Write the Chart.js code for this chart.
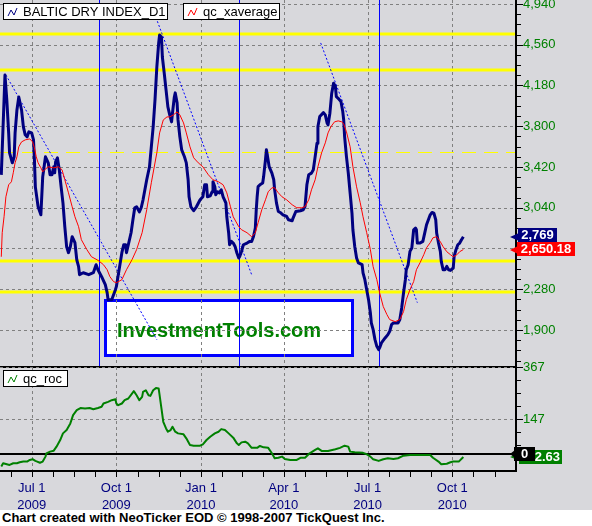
<!DOCTYPE html>
<html lang="en">
  <head>
    <meta charset="UTF-8" />
    <title>Baltic Dry Index</title>
    <script src="https://cdn.jsdelivr.net/npm/chart.js"></script>
    <style>
      * {
        margin: 0;
        padding: 0;
        box-sizing: border-box;
      }
      body {
        width: 592px;
        height: 526px;
        position: relative;
        overflow: hidden;
        background: #d8d8dc;
        font-family: "Liberation Sans", Arial, sans-serif;
      }
      #mainChart {
        position: absolute;
        left: 0;
        top: 0;
      }
      #rocChart {
        position: absolute;
        left: 0;
        top: 355px;
      }
      .footer {
        position: absolute;
        left: 0;
        top: 510px;
        width: 592px;
        height: 16px;
        padding-left: 2px;
        background: #fff;
        color: #000;
        font: bold 13px "Liberation Sans", Arial, sans-serif;
        line-height: 16px;
      }
    </style>
  </head>
  <body>
    <canvas id="mainChart" width="592" height="368"></canvas>
    <canvas id="rocChart" width="592" height="156"></canvas>
    <div class="footer">Chart created with NeoTicker EOD © 1998-2007 TickQuest Inc.</div>

    <script>
      // x values are days counted from 1 Jul 2009
      const bdiDays = [
        -33, -29, -27, -25, -24, -21, -19, -18, -16, -14,
        -11, -9, -7, -5, -3, 0, 2, 3, 4, 7,
        10, 12, 15, 18, 20, 22, 24, 25, 26, 28,
        30, 32, 34, 36, 38, 40, 42, 44, 47, 49,
        51, 52, 56, 62, 67, 70, 72, 76, 80, 82,
        83, 87, 91, 92, 95, 98, 100, 102, 103, 105,
        108, 110, 112, 114, 117, 119, 121, 123, 125, 128,
        130, 132, 134, 136, 138, 139, 141, 142, 144, 146,
        148, 150, 152, 153, 155, 156, 158, 159, 161, 163,
        166, 168, 170, 171, 173, 176, 179, 183, 186, 188,
        190, 191, 194, 196, 197, 199, 200, 202, 204, 206,
        208, 211, 212, 214, 215, 217, 219, 221, 223, 225,
        226, 228, 230, 234, 237, 239, 241, 243, 244, 245,
        246, 248, 251, 252, 254, 255, 256, 258, 261, 263,
        264, 266, 268, 270, 273, 277, 279, 283, 284, 287,
        292, 295, 297, 299, 301, 304, 306, 308, 310, 311,
        313, 317, 319, 321, 322, 324, 326, 328, 330, 331,
        333, 336, 338, 339, 340, 342, 344, 346, 348, 349,
        351, 353, 355, 359, 360, 362, 364, 366, 368, 369,
        371, 373, 375, 377, 378, 380, 384, 387, 389, 391,
        393, 398, 400, 402, 404, 406, 407, 409, 411, 413,
        415, 417, 418, 419, 422, 425, 427, 429, 431, 433,
        435, 437, 439, 440, 442, 444, 445, 447, 449, 451,
        453, 455, 458, 459, 461, 463, 465, 467, 469,
      ];
      const bdiValues = [
        3347, 4278, 4046, 3738, 3552, 3459, 3515, 3738, 3952, 4073,
        3952, 3794, 3720, 3701, 3748, 3738, 3673, 3487, 3235, 3049,
        2974, 3328, 3515, 3459, 3347, 3347, 3422, 3366, 3468, 3505,
        3394, 3235, 3086, 2863, 2676, 2621, 2676, 2770, 2714, 2555,
        2490, 2416, 2434, 2416, 2434, 2509, 2462, 2397, 2323, 2248,
        2183, 2183, 2276, 2304, 2462, 2621, 2695, 2695, 2621, 2695,
        2807, 2928, 3040, 3049, 3002, 3040, 3114, 3207, 3301, 3422,
        3608, 3794, 4046, 4353, 4577, 4651, 4632, 4446, 4297, 4139,
        3980, 3906, 3841, 3925, 4073, 4111, 4018, 3859, 3701, 3580,
        3515, 3459, 3301, 3142, 3049, 3012, 3049, 3114, 3142, 3254,
        3254, 3142, 3151, 3189, 3282, 3235, 3161, 3189, 3179, 3207,
        3142, 3086, 2956, 2807, 2695, 2726, 2711, 2679, 2618, 2571,
        2586, 2633, 2695, 2711, 2726, 2726, 2772, 2851, 3021, 3145,
        3238, 3254, 3270, 3331, 3487, 3580, 3533, 3424, 3363, 3301,
        3207, 3083, 3005, 2996, 2974, 2959, 2928, 2919, 2944, 3005,
        3012, 3021, 3052, 3254, 3347, 3363, 3394, 3517, 3642, 3797,
        3890, 3927, 3906, 3829, 3813, 3922, 4108, 4201, 4170, 4076,
        4061, 4030, 3937, 3859, 3704, 3517, 3363, 3177, 2990, 2835,
        2679, 2571, 2525, 2509, 2432, 2369, 2276, 2183, 2059, 1966,
        1903, 1810, 1748, 1717, 1733, 1780, 1826, 1857, 1888, 1950,
        1966, 1966, 1997, 2106, 2245, 2369, 2462, 2509, 2633, 2664,
        2835, 2851, 2835, 2711, 2711, 2726, 2804, 2881, 2928, 2974,
        2996, 2990, 2928, 2804, 2711, 2633, 2540, 2462, 2462, 2493,
        2462, 2456, 2478, 2586, 2649, 2695, 2711, 2742, 2769,
      ];

      const avgDays = [
        -33, -32, -30, -28, -25, -22, -20, -18, -16, -14,
        -11, -7, -2, 1, 3, 5, 7, 10, 12, 14,
        18, 24, 29, 33, 36, 40, 44, 47, 51, 54,
        60, 65, 71, 74, 78, 82, 85, 89, 92, 98,
        103, 109, 114, 120, 125, 130, 136, 139, 143, 147,
        150, 154, 158, 161, 165, 168, 172, 176, 181, 186,
        192, 197, 203, 208, 212, 216, 219, 225, 228, 234,
        239, 243, 246, 250, 254, 257, 261, 264, 268, 272,
        277, 283, 288, 293, 297, 301, 304, 308, 311, 315,
        319, 322, 325, 329, 333, 337, 339, 342, 346, 349,
        353, 357, 360, 364, 368, 371, 375, 378, 382, 386,
        389, 395, 400, 404, 407, 411, 415, 418, 422, 426,
        429, 433, 436, 440, 444, 447, 451, 455, 458, 462,
        465, 469,
      ];
      const avgValues = [
        2583, 2807, 2956, 3142, 3254, 3282, 3366, 3459, 3515, 3608,
        3654, 3673, 3682, 3654, 3599, 3515, 3459, 3412, 3375, 3394,
        3422, 3412, 3422, 3394, 3301, 3179, 3049, 2956, 2863, 2742,
        2649, 2583, 2555, 2537, 2509, 2462, 2397, 2351, 2341, 2369,
        2462, 2555, 2649, 2807, 3021, 3273, 3552, 3738, 3859, 3887,
        3887, 3906, 3934, 3906, 3831, 3738, 3608, 3506, 3459, 3422,
        3347, 3301, 3282, 3254, 3179, 3049, 2956, 2863, 2835, 2807,
        2770, 2807, 2900, 3021, 3114, 3189, 3226, 3226, 3179, 3142,
        3114, 3068, 3040, 3040, 3049, 3114, 3207, 3301, 3422, 3552,
        3645, 3738, 3794, 3841, 3850, 3841, 3822, 3748, 3608, 3422,
        3235, 3086, 2956, 2807, 2649, 2490, 2369, 2248, 2118, 2043,
        1997, 1978, 1997, 2071, 2183, 2276, 2351, 2462, 2528, 2602,
        2667, 2714, 2760, 2770, 2723, 2677, 2630, 2602, 2583, 2602,
        2630, 2650.18,
      ];

      const rocDays = [
        -33, -31, -27, -24, -20, -16, -13, -9, -5, -2,
        1, 4, 6, 9, 12, 15, 16, 20, 24, 27,
        31, 34, 38, 42, 45, 49, 53, 58, 63, 67,
        72, 76, 78, 83, 87, 91, 92, 94, 98, 101,
        105, 109, 111, 114, 117, 120, 121, 124, 127, 129,
        132, 135, 138, 139, 141, 143, 146, 148, 151, 153,
        156, 159, 165, 168, 172, 176, 183, 186, 190, 194,
        199, 203, 206, 210, 214, 219, 223, 225, 228, 232,
        235, 239, 245, 248, 252, 257, 261, 264, 268, 272,
        275, 281, 288, 292, 297, 302, 308, 311, 315, 322,
        330, 335, 340, 344, 346, 351, 360, 364, 368, 371,
        377, 382, 387, 393, 398, 404, 411, 433, 436, 442,
        445, 451, 455, 458, 464, 469,
      ];
      const rocValues = [
        -53, -39, -43, -46, -39, -39, -35, -32, -32, -25,
        -22, -29, -32, -37, -32, -11, 3, 10, 14, 31,
        59, 87, 101, 129, 164, 185, 194, 192, 194, 189,
        194, 199, 213, 220, 227, 231, 213, 206, 213, 227,
        234, 255, 265, 248, 227, 241, 262, 269, 248, 245,
        269, 278, 276, 248, 192, 136, 108, 94, 101, 115,
        94, 87, 83, 66, 38, 35, 35, 41, 59, 73,
        87, 94, 105, 101, 87, 69, 45, 38, 49, 52,
        45, 26, 26, 34, 28, 26, 3, -18, -16, -11,
        -21, -25, -25, -16, -16, 3, 17, 24, 13, 13,
        20, 26, 35, 31, 10, 7, 5, -1, -11, -22,
        -29, -22, -18, -21, -18, -7, -4, -4, -16, -32,
        -43, -41, -35, -32, -32, -12.63,
      ];

      const priceTicks = [1900, 2280, 2660, 3040, 3420, 3800, 4180, 4560, 4940];
      const rocTicks = [0, 147, 367];
      const xTickDates = ["2009-07-01", "2009-10-01", "2010-01-01", "2010-04-01", "2010-07-01", "2010-10-01"];
      const xTickLabels = [["Jul 1", "2009"], ["Oct 1", "2009"], ["Jan 1", "2010"], ["Apr 1", "2010"], ["Jul 1", "2010"], ["Oct 1", "2010"]];
      const quarterBounds = ["2009-04-01", ...xTickDates, "2011-01-01"];

      // horizontal study levels and cycle markers
      const levelValues = [4661, 4325, 2546, 2258];
      const midLevel = 3562;
      const cycleDates = ["2009-09-12", "2010-02-11", "2010-07-13"];

      // dotted down-trend lines
      const trendFromDays = [-28, 132, 314];
      const trendFromValues = [4278, 4884, 4577];
      const trendToDays = [136, 239, 419];
      const trendToValues = [1810, 2416, 2155];

      const FONT = '"Liberation Sans", Arial, sans-serif';
      const X_MIN = -34.4;
      const X_MAX = 526.2;

      const day = (s) => (Date.parse(s) - Date.parse("2009-07-01")) / 864e5;
      const pts = (xs, ys) => xs.map((d, i) => ({ x: d, y: ys[i] }));
      const crisp = (p) => Math.round(p) + 0.5;

      function hLine(ctx, x1, x2, y) {
        ctx.beginPath();
        ctx.moveTo(x1, y);
        ctx.lineTo(x2, y);
        ctx.stroke();
      }
      function vLine(ctx, x, y1, y2) {
        ctx.beginPath();
        ctx.moveTo(x, y1);
        ctx.lineTo(x, y2);
        ctx.stroke();
      }

      function drawLegend(ctx, x, y, w, text, color) {
        ctx.fillStyle = "#fff";
        ctx.fillRect(x, y, w, 17);
        ctx.strokeStyle = "#000";
        ctx.lineWidth = 1;
        ctx.strokeRect(x + 0.5, y + 0.5, w - 1, 16);
        ctx.strokeStyle = color;
        ctx.beginPath();
        ctx.moveTo(x + 5, y + 13);
        ctx.lineTo(x + 8, y + 7);
        ctx.lineTo(x + 11, y + 12);
        ctx.lineTo(x + 14, y + 5);
        ctx.stroke();
        ctx.fillStyle = "#000";
        ctx.font = "13px " + FONT;
        ctx.textAlign = "left";
        ctx.textBaseline = "middle";
        ctx.fillText(text, x + 20, y + 9);
      }

      function drawTag(ctx, tipY, left, top, w, text, bg) {
        ctx.fillStyle = bg;
        ctx.beginPath();
        ctx.moveTo(510, tipY);
        ctx.lineTo(left + 1, tipY - 4);
        ctx.lineTo(left + 1, tipY + 4);
        ctx.closePath();
        ctx.fill();
        ctx.fillRect(left, top, w, 14);
        ctx.fillStyle = "#fff";
        ctx.font = "bold 13px " + FONT;
        ctx.textAlign = "center";
        ctx.textBaseline = "middle";
        ctx.fillText(text, left + w / 2, top + 7.5);
      }

      function yAxisOptions(min, max, tickValues, fmt) {
        return {
          position: "right",
          min: min,
          max: max,
          afterBuildTicks: (s) => {
            s.ticks = tickValues.map((v) => ({ value: v }));
          },
          afterFit: (s) => {
            s.width = 76;
            s.paddingTop = 0;
            s.paddingBottom = 0;
          },
          grid: { display: false, drawTicks: false },
          border: { display: false },
          ticks: {
            color: "#008000",
            padding: 7,
            font: { size: 13, family: FONT },
            callback: fmt,
          },
        };
      }

      const mainDecor = {
        id: "mainDecor",
        beforeDatasetsDraw(chart) {
          const { ctx, chartArea: a, scales } = chart;
          const x = scales.x, y = scales.y;
          ctx.save();
          // watermark box
          ctx.fillStyle = "#fff";
          ctx.fillRect(105, 300, 248, 56);
          ctx.strokeStyle = "#0000ff";
          ctx.lineWidth = 3;
          ctx.strokeRect(105.5, 300.5, 247, 55);
          ctx.fillStyle = "#008000";
          ctx.font = "bold 20px " + FONT;
          ctx.textAlign = "left";
          ctx.textBaseline = "alphabetic";
          ctx.fillText("InvestmentTools.com", 117, 337);

          // dashed grid
          ctx.strokeStyle = "#808080";
          ctx.lineWidth = 1;
          ctx.setLineDash([3, 3]);
          priceTicks.forEach((v) => hLine(ctx, a.left, a.right, crisp(y.getPixelForValue(v))));
          xTickDates.forEach((d) => vLine(ctx, crisp(x.getPixelForValue(day(d))), a.top, a.bottom));

          // yellow levels
          ctx.setLineDash([]);
          ctx.strokeStyle = "#ffff00";
          ctx.lineWidth = 3;
          levelValues.forEach((v) => hLine(ctx, a.left, a.right, Math.round(y.getPixelForValue(v))));
          ctx.lineWidth = 1;
          ctx.setLineDash([14, 8]);
          hLine(ctx, a.left, a.right, crisp(y.getPixelForValue(midLevel)));

          // cycle markers
          ctx.setLineDash([]);
          ctx.strokeStyle = "#0000ff";
          cycleDates.forEach((d) => vLine(ctx, crisp(x.getPixelForValue(day(d))), a.top, a.bottom));
          ctx.restore();
        },
        afterDraw(chart) {
          const { ctx, chartArea: a, scales } = chart;
          const y = scales.y;
          ctx.save();
          ctx.strokeStyle = "#000";
          ctx.lineWidth = 2;
          vLine(ctx, a.right, 0, a.bottom);
          hLine(ctx, 0, a.right, a.bottom - 1);

          ctx.lineWidth = 1;
          const minor = (priceTicks[1] - priceTicks[0]) / 4;
          for (let v = priceTicks[priceTicks.length - 1]; v > y.min; v -= minor) {
            const len = priceTicks.includes(v) ? 7 : 5;
            hLine(ctx, a.right, a.right + len, crisp(y.getPixelForValue(v)));
          }

          drawLegend(ctx, 3, 3, 165, chart.data.datasets[1].label, "#000080");
          drawLegend(ctx, 183, 3, 97, chart.data.datasets[0].label, "#ff0000");

          const lastBdi = bdiValues[bdiValues.length - 1];
          const lastAvg = avgValues[avgValues.length - 1];
          const yb = Math.round(y.getPixelForValue(lastBdi));
          const yr = Math.round(y.getPixelForValue(lastAvg));
          drawTag(ctx, yb, 518, yb - 9, 39, lastBdi.toLocaleString("en-US"), "#000080");
          drawTag(ctx, yr, 517, yr - 8, 58, lastAvg.toLocaleString("en-US", { minimumFractionDigits: 2 }), "#ff0000");
          ctx.restore();
        },
      };

      const rocDecor = {
        id: "rocDecor",
        beforeDatasetsDraw(chart) {
          const { ctx, chartArea: a, scales } = chart;
          const x = scales.x, y = scales.y;
          ctx.save();
          ctx.strokeStyle = "#808080";
          ctx.lineWidth = 1;
          ctx.setLineDash([3, 3]);
          rocTicks.slice(1).forEach((v) => hLine(ctx, a.left, a.right, crisp(y.getPixelForValue(v))));
          xTickDates.forEach((d) => vLine(ctx, crisp(x.getPixelForValue(day(d))), a.top, a.bottom));
          ctx.setLineDash([]);
          ctx.strokeStyle = "#000";
          ctx.lineWidth = 2;
          hLine(ctx, a.left, a.right, Math.round(y.getPixelForValue(0)));
          ctx.restore();
        },
        afterDraw(chart) {
          const { ctx, chartArea: a, scales } = chart;
          const x = scales.x, y = scales.y;
          ctx.save();
          ctx.strokeStyle = "#000";
          ctx.lineWidth = 2;
          vLine(ctx, a.right, a.top, a.bottom + 1);
          hLine(ctx, 0, a.right, a.bottom);

          ctx.lineWidth = 1;
          for (let v = rocTicks[rocTicks.length - 1]; v > y.min; v -= 55) {
            const len = rocTicks.includes(v) ? 7 : 5;
            hLine(ctx, a.right, a.right + len, crisp(y.getPixelForValue(v)));
          }
          for (let q = 0; q < quarterBounds.length - 1; q++) {
            const d0 = day(quarterBounds[q]);
            const d1 = day(quarterBounds[q + 1]);
            for (let k = 0; k < 4; k++) {
              const px = crisp(x.getPixelForValue(d0 + ((d1 - d0) * k) / 4));
              if (px > a.left && px < a.right) vLine(ctx, px, a.bottom, a.bottom + 6);
            }
          }

          drawLegend(ctx, 3, a.top + 3, 65, chart.data.datasets[0].label, "#008000");

          // last-value tag sits partly behind the zero tag
          const lastRoc = rocValues[rocValues.length - 1];
          const yg = Math.round(y.getPixelForValue(lastRoc));
          const y0 = Math.round(y.getPixelForValue(0));
          drawTag(ctx, yg, 519, yg - 7, 43, "", "#008000");
          ctx.fillStyle = "#fff";
          ctx.font = "bold 13px " + FONT;
          ctx.textAlign = "right";
          ctx.textBaseline = "middle";
          ctx.fillText(lastRoc.toFixed(2), 560, yg + 0.5);
          drawTag(ctx, y0, 514, y0 - 7, 21, "0", "#000");
          ctx.restore();
        },
      };

      new Chart(document.getElementById("mainChart"), {
        type: "line",
        data: {
          datasets: [
            { label: "qc_xaverage", data: pts(avgDays, avgValues), borderColor: "#ff0000", borderWidth: 1, order: 0 },
            { label: "BALTIC DRY INDEX_D1", data: pts(bdiDays, bdiValues), borderColor: "#000080", borderWidth: 3, order: 1 },
            ...trendFromDays.map((d, i) => ({
              label: "trend " + (i + 1),
              data: [
                { x: d, y: trendFromValues[i] },
                { x: trendToDays[i], y: trendToValues[i] },
              ],
              borderColor: "#0000ff",
              borderWidth: 1,
              borderDash: [2, 2],
              order: 2,
            })),
          ],
        },
        options: {
          responsive: false,
          animation: false,
          devicePixelRatio: 1,
          events: [],
          elements: {
            point: { radius: 0 },
            line: { tension: 0, borderJoinStyle: "round", fill: false },
          },
          plugins: { legend: { display: false }, tooltip: { enabled: false } },
          layout: { padding: 0 },
          scales: {
            x: { type: "linear", min: X_MIN, max: X_MAX, display: false },
            y: yAxisOptions(1545.6, 4977.3, priceTicks, (v) => v.toLocaleString("en-US")),
          },
        },
        plugins: [mainDecor],
      });

      new Chart(document.getElementById("rocChart"), {
        type: "line",
        data: {
          datasets: [
            { label: "qc_roc", data: pts(rocDays, rocValues), borderColor: "#008000", borderWidth: 2 },
          ],
        },
        options: {
          responsive: false,
          animation: false,
          devicePixelRatio: 1,
          events: [],
          elements: {
            point: { radius: 0 },
            line: { tension: 0, borderJoinStyle: "round", fill: false },
          },
          plugins: { legend: { display: false }, tooltip: { enabled: false } },
          layout: { padding: { top: 12 } },
          scales: {
            x: {
              type: "linear",
              min: X_MIN,
              max: X_MAX,
              afterBuildTicks: (s) => {
                s.ticks = xTickDates.map((d) => ({ value: day(d) }));
              },
              afterFit: (s) => {
                s.height = 40;
                s.paddingLeft = 0;
                s.paddingRight = 0;
              },
              grid: { display: false, drawTicks: false },
              border: { display: false },
              ticks: {
                color: "#000080",
                padding: 9,
                maxRotation: 0,
                autoSkip: false,
                font: { size: 13, family: FONT, lineHeight: 1.3 },
                callback: (v, i) => xTickLabels[i],
              },
            },
            y: yAxisOptions(-71.7, 367, rocTicks, (v) => String(v)),
          },
        },
        plugins: [rocDecor],
      });
    </script>
  </body>
</html>
